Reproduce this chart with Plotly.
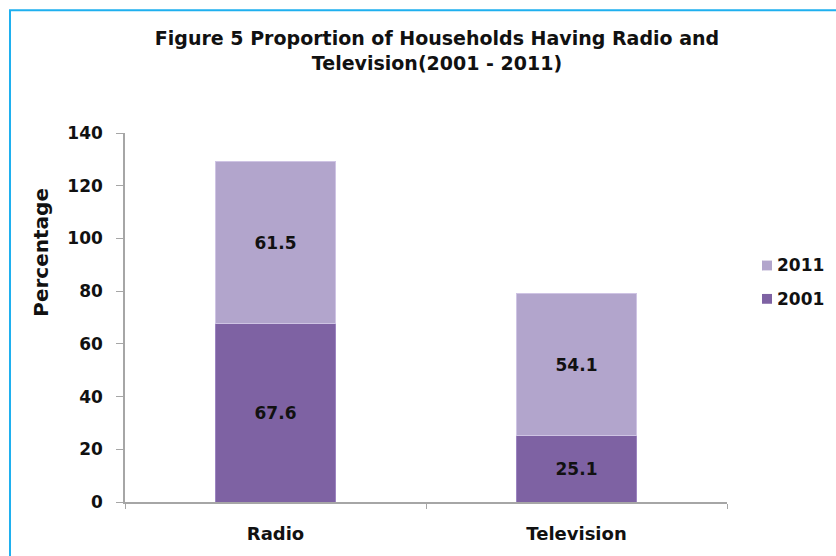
import plotly.graph_objects as go

categories = ["Radio", "Television"]
series_2001 = [67.6, 25.1]
series_2011 = [61.5, 54.1]
y_ticks = [0, 20, 40, 60, 80, 100, 120, 140]

FONT = "DejaVu Sans"
W, H = 836, 556
# pixel layout of the reference plot area
SL, SR, ST, SB = 125, 727, 133, 509
L, R, T, B = SL, W - SR, ST, H - SB
pw = W - L - R
ph = H - T - B

C2001 = "#7e62a3"
C2011 = "#b2a5cc"

fig = go.Figure()
fig.add_trace(go.Bar(
    x=categories, y=series_2001, name="2001",
    marker=dict(color=C2001, line=dict(color="#9c84c0", width=1)),
    text=[f"{v:.1f}" for v in series_2001], textposition="inside",
    insidetextanchor="middle",
    textfont=dict(family=FONT, size=17, color="#111111", weight="bold"),
))
fig.add_trace(go.Bar(
    x=categories, y=series_2011, name="2011",
    marker=dict(color=C2011, line=dict(color="#cfc4e4", width=1)),
    text=[f"{v:.1f}" for v in series_2011], textposition="inside",
    insidetextanchor="middle",
    textfont=dict(family=FONT, size=17, color="#111111", weight="bold"),
))

def px2x(px):
    return (px - L) / pw

def py2y(py):
    return (H - B - py) / ph

shapes = [dict(
    type="rect", xref="paper", yref="paper",
    x0=px2x(10), x1=px2x(870), y0=py2y(600), y1=py2y(8),
    line=dict(color="#1fb0ef", width=2), fillcolor="rgba(0,0,0,0)", layer="below",
)]
annotations = [dict(
    text="<b>Percentage</b>", textangle=-90, xref="paper", yref="paper",
    x=px2x(41), y=py2y(255), xanchor="center", yanchor="middle", showarrow=False,
    font=dict(family=FONT, size=20, color="#111111"),
)]
# custom legend (2011 above 2001)
for name, col, sy in [("2011", C2011, 268), ("2001", C2001, 302)]:
    shapes.append(dict(
        type="rect", xref="paper", yref="paper",
        x0=px2x(762), x1=px2x(772), y0=py2y(sy + 5), y1=py2y(sy - 5),
        fillcolor=col, line=dict(color=col, width=0),
    ))
    annotations.append(dict(
        text=f"<b>{name}</b>", xref="paper", yref="paper",
        x=px2x(775), y=py2y(sy), xanchor="left", yanchor="middle", showarrow=False,
        font=dict(family=FONT, size=17, color="#111111"),
    ))

fig.update_layout(
    width=W, height=H,
    margin=dict(l=L, r=R, t=T, b=B),
    paper_bgcolor="white", plot_bgcolor="white",
    barmode="stack", bargap=0.6,
    font=dict(family=FONT, color="#111111"),
    showlegend=False,
    title=dict(
        text="<b>Figure 5 Proportion of Households Having Radio and<br>Television(2001 - 2011)</b>",
        x=px2x(437), xanchor="center", xref="paper",
        y=1 - 45 / H, yanchor="middle",
        font=dict(family=FONT, size=19, color="#111111"),
    ),
    xaxis=dict(
        showline=True, linecolor="#a6a6a6", linewidth=1.5,
        ticks="outside", tickson="boundaries", ticklen=5, tickcolor="#a6a6a6",
        tickfont=dict(family=FONT, size=18, color="#111111", weight="bold"),
        ticklabelstandoff=15,
    ),
    yaxis=dict(
        range=[0, 140], tickvals=y_ticks, showgrid=False, zeroline=False,
        showline=True, linecolor="#a6a6a6", linewidth=1.5,
        ticks="outside", ticklen=7, tickcolor="#a6a6a6",
        tickfont=dict(family=FONT, size=17, color="#111111", weight="bold"),
        ticklabelstandoff=10,
    ),
    shapes=shapes,
    annotations=annotations,
)

fig.write_html(
    "out.html",
    config={"displayModeBar": False},
    post_script=(
        "var d=document.getElementById('{plot_id}');"
        "d.style.position='fixed';d.style.top='0px';d.style.left='0px';"
        "document.body.style.margin='0';document.body.style.overflow='hidden';"
        "document.documentElement.style.overflow='hidden';"
    ),
)
